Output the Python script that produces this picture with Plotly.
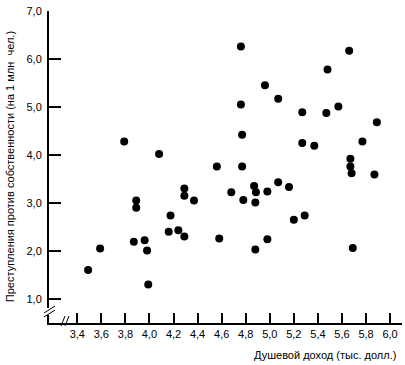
import plotly.graph_objects as go

# Data
income = [3.49, 3.59, 3.79, 3.87, 3.89, 3.89, 3.96, 3.98, 3.99, 4.08,
          4.16, 4.175, 4.24, 4.29, 4.29, 4.29, 4.37, 4.56, 4.58, 4.68,
          4.76, 4.76, 4.77, 4.77, 4.78, 4.87, 4.885, 4.88, 4.88, 4.96,
          4.98, 4.98, 5.07, 5.07, 5.16, 5.20, 5.27, 5.27, 5.29, 5.37,
          5.47, 5.48, 5.57, 5.66, 5.67, 5.67, 5.68, 5.69, 5.77, 5.87, 5.89]
crime = [1.60, 2.05, 4.28, 2.19, 3.05, 2.90, 2.22, 2.01, 1.30, 4.02,
         2.40, 2.74, 2.43, 2.30, 3.30, 3.15, 3.05, 3.76, 2.26, 3.22,
         6.26, 5.05, 4.42, 3.76, 3.06, 3.35, 3.22, 3.01, 2.03, 5.45,
         3.24, 2.24, 5.17, 3.43, 3.33, 2.65, 4.89, 4.25, 2.74, 4.19,
         4.875, 5.78, 5.01, 6.17, 3.92, 3.76, 3.62, 2.06, 4.28, 3.59, 4.68]

x_ticks = [3.4, 3.6, 3.8, 4.0, 4.2, 4.4, 4.6, 4.8, 5.0, 5.2, 5.4, 5.6, 5.8, 6.0]
x_tick_text = ["3,4", "3,6", "3,8", "4,0", "4,2", "4,4", "4,6", "4,8",
               "5,0", "5,2", "5,4", "5,6", "5,8", "6,0"]
y_ticks = [1.0, 2.0, 3.0, 4.0, 5.0, 6.0, 7.0]
y_tick_text = ["1,0", "2,0", "3,0", "4,0", "5,0", "6,0", "7,0"]

x_title = "Душевой доход (тыс. долл.)"
y_title = "Преступления против собственности (на 1 млн  чел.)"

FONT = "Liberation Sans, Arial, sans-serif"

fig = go.Figure()
fig.add_trace(go.Scatter(
    x=income, y=crime, mode="markers",
    marker=dict(color="black", size=8, line=dict(width=0)),
    showlegend=False, hoverinfo="x+y",
))

fig.update_layout(
    width=405, height=365,
    margin=dict(l=49, r=3, t=11, b=42),
    paper_bgcolor="white", plot_bgcolor="white",
    font=dict(family=FONT, size=11, color="black"),
    xaxis=dict(
        range=[3.165, 6.099], showgrid=False, zeroline=False,
        showline=True, linecolor="black", linewidth=2,
        ticks="inside", ticklen=10, tickwidth=1.5, tickcolor="black",
        tickvals=x_ticks, ticktext=x_tick_text,
        tickfont=dict(size=11, family=FONT),
        fixedrange=True,
    ),
    yaxis=dict(
        range=[0.497, 7.0], showgrid=False, zeroline=False,
        showline=True, linecolor="black", linewidth=2,
        ticks="inside", ticklen=12, tickwidth=1.5, tickcolor="black",
        tickvals=y_ticks, ticktext=y_tick_text,
        tickfont=dict(size=11, family=FONT),
        ticklabelstandoff=3,
        fixedrange=True,
    ),
    annotations=[
        dict(text=x_title, xref="paper", yref="paper", x=0.989, y=-0.103,
             xanchor="right", yanchor="middle", showarrow=False,
             font=dict(size=11, family=FONT)),
        dict(text=y_title, xref="paper", yref="paper", x=-0.11, y=0.5,
             xanchor="center", yanchor="middle", textangle=-90, showarrow=False,
             font=dict(size=11, family=FONT)),
    ],
)

# axis break marks (decorative)
def px2paper(px, py):
    return (px - 49) / 353.0, (323 - py) / 312.0

shapes = []
for (a, b) in [((46, 308), (52, 315))]:
    x0, y0 = px2paper(*a); x1, y1 = px2paper(*b)
    shapes.append(dict(type="rect", xref="paper", yref="paper",
                       x0=x0, y0=y0, x1=x1, y1=y1,
                       fillcolor="white", line=dict(width=0), layer="above"))
for (a, b) in [((44, 313), (55, 306)), ((44, 317), (55, 310)),
               ((61, 326), (65, 316)), ((65, 326), (69, 316))]:
    x0, y0 = px2paper(*a); x1, y1 = px2paper(*b)
    shapes.append(dict(type="line", xref="paper", yref="paper",
                       x0=x0, y0=y0, x1=x1, y1=y1,
                       line=dict(color="black", width=1), layer="above"))
fig.update_layout(shapes=shapes)

fig.write_html("out.html")
